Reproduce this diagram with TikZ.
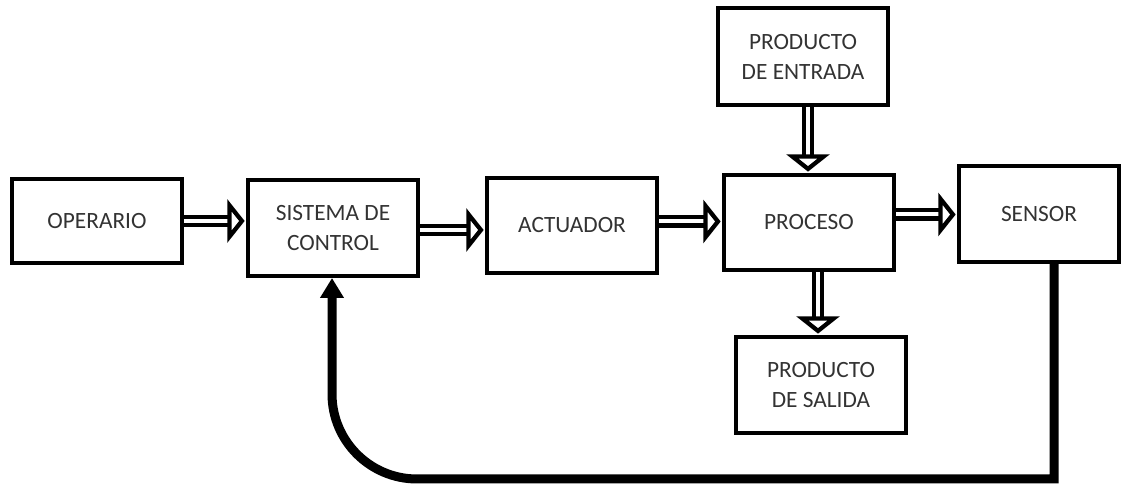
\documentclass[tikz,border=0pt]{standalone}
\usepackage{fontspec}
\setmainfont{Carlito}
\usetikzlibrary{arrows.meta}
\definecolor{txt}{HTML}{333333}
\tikzset{
  blk/.style={draw=black, line width=3pt, fill=white, minimum width=127.5pt, minimum height=71.25pt,
    align=center, text=txt, font=\fontsize{17.5}{22.5}\selectfont, inner sep=0pt},
  flow/.style={double=white, double distance=3pt, line width=3.3pt, draw=black,
    -{Triangle[open, length=13pt, width=32pt, line width=3.2pt]}, shorten >=1pt},
  fb/.style={draw=black, line width=6.75pt, -{Triangle[length=15pt, width=17pt]}}
}
\begin{document}
\begin{tikzpicture}[x=0.75pt, y=0.75pt]
\useasboundingbox (0,0) rectangle (1128,484);
\node[blk, minimum height=63pt] (op) at (97,263) {OPERARIO};
\node[blk, minimum height=72pt] (sis) at (333,256) {SISTEMA DE\\CONTROL};
\node[blk] (act) at (572,258.5) {ACTUADOR};
\node[blk] (pro) at (809,261.5) {PROCESO};
\node[blk, minimum width=120pt, minimum height=72pt] (sen) at (1039,270) {SENSOR};
\node[blk, minimum height=72.75pt] (ent) at (803,427.5) {PRODUCTO\\DE ENTRADA};
\node[blk, minimum height=72pt] (sal) at (821,99) {PRODUCTO\\DE SALIDA};
\coordinate (fbA) at (1054,5);
\coordinate (fbB) at (417,5);
\coordinate (fbC) at (332,90);
\draw[flow] (op.east) -- (op.east -| sis.west);
\draw[flow] ([yshift=-1.5pt]sis.east) -- ([yshift=-1.5pt]sis.east -| act.west);
\draw[flow] ([yshift=3pt]act.east) -- ([yshift=3pt]act.east -| pro.west);
\draw[flow] ([yshift=6pt]pro.east) -- ([yshift=6pt]pro.east -| sen.west);
\draw[flow] ([xshift=3.75pt]ent.south) -- ([xshift=3.75pt]ent.south |- pro.north);
\draw[flow] ([xshift=6.75pt]pro.south) -- ([xshift=6.75pt]pro.south |- sal.north);
\draw[fb] (sen.south -| fbA) -- (fbA) -- (fbB) arc[start angle=270, end angle=180, radius=85] -- (sis.south -| fbC);
\end{tikzpicture}
\end{document}
